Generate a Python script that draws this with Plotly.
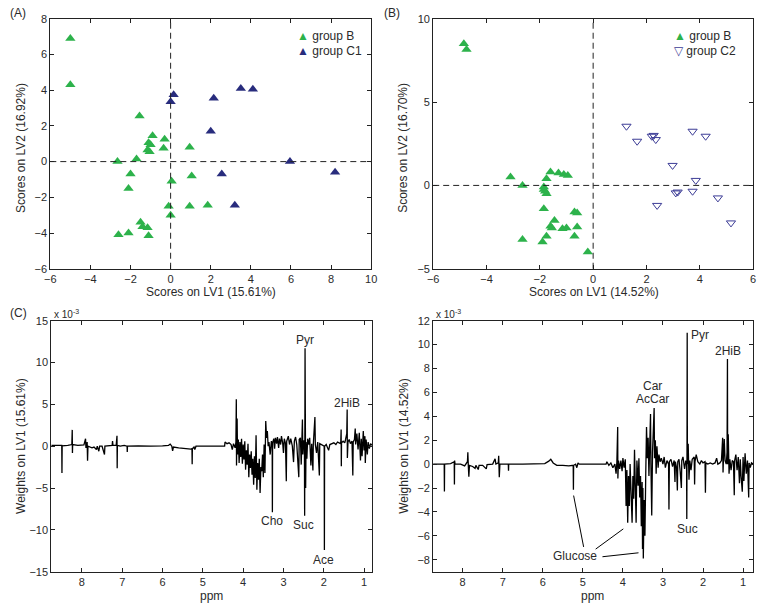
import plotly.graph_objects as go

# ---------------- Panel A data ----------------
a_B_x = [-5.0, -5.0, -1.55, -0.9, -0.3, -1.1, -1.0, -1.15, -1.05, -0.35, 0.95,
         -1.7, -2.65, -2.0, 1.05, 0.05, -2.1, -0.1, 0.95, 1.85, 0.0,
         -1.5, -1.4, -1.15, -2.6, -2.1, -1.1]
a_B_y = [6.9, 4.3, 2.55, 1.45, 1.25, 1.05, 0.95, 0.65, 0.55, 0.75, 0.8,
         0.15, 0.0, -0.7, -0.8, -1.1, -1.5, -2.5, -2.5, -2.45, -3.0,
         -3.4, -3.65, -3.7, -4.1, -4.0, -4.15]
a_C1_x = [0.15, 0.0, 2.15, 3.5, 4.1, 2.0, 5.95, 8.2, 2.55, 3.2]
a_C1_y = [3.75, 3.35, 3.55, 4.1, 4.05, 1.7, 0.0, -0.6, -0.7, -2.45]

# ---------------- Panel B data ----------------
b_B_x = [-4.85, -4.75, -3.1, -2.65, -1.6, -1.3, -1.1, -0.95, -1.75,
         -1.85, -1.85, -1.8, -1.75, -1.85, -0.7, -0.6, -1.45,
         -1.6, -1.55, -1.15, -1.0, -0.6, -2.65, -1.75, -1.9, -0.7, -0.2]
b_B_y = [8.5, 8.15, 0.5, 0.0, 0.8, 0.75, 0.65, 0.6, 0.4,
         -0.1, -0.25, -0.35, -0.5, -1.4, -1.6, -1.65, -2.1,
         -2.45, -2.55, -2.6, -2.55, -2.5, -3.25, -3.05, -3.4, -3.05, -4.0]
b_C2_x = [1.25, 1.65, 2.2, 2.27, 2.35, 3.73, 4.22, 2.98, 3.85,
          3.1, 3.17, 3.73, 4.68, 2.4, 5.17]
b_C2_y = [3.55, 2.65, 2.95, 3.0, 2.75, 3.25, 2.95, 1.2, 0.3,
          -0.45, -0.4, -0.35, -0.75, -1.2, -2.25]

# ---------------- Panel C spectrum (weights x 1e-3) ----------------
c_ppm = [8.76, 8.60, 8.50, 8.495, 8.49, 8.35, 8.25, 8.24, 8.235, 8.23,
         8.10, 7.95, 7.91, 7.90, 7.87, 7.86, 7.85, 7.75, 7.70, 7.64,
         7.62, 7.58, 7.56, 7.50, 7.44, 7.43, 7.30, 7.25, 7.24, 7.23,
         7.15, 7.13, 7.125, 7.12, 7.05, 6.95, 6.88, 6.875, 6.87, 6.6,
         6.3, 6.0, 5.85, 5.81, 5.77, 5.75, 5.73, 5.6, 5.45, 5.30,
         5.27, 5.265, 5.26, 5.22, 5.20, 5.17, 5.12, 4.46, 4.45, 4.40,
         4.35, 4.30, 4.27, 4.24, 4.20, 4.18, 4.17, 4.165, 4.15, 4.14,
         4.12, 4.10, 4.08, 4.06, 4.04, 4.02, 4.00, 3.98, 3.96, 3.94,
         3.92, 3.90, 3.88, 3.86, 3.84, 3.82, 3.80, 3.78, 3.76, 3.74,
         3.72, 3.70, 3.68, 3.66, 3.64, 3.62, 3.60, 3.58, 3.56, 3.54,
         3.52, 3.50, 3.48, 3.46, 3.44, 3.42, 3.40, 3.38, 3.36, 3.33,
         3.30, 3.28, 3.275, 3.27, 3.24, 3.22, 3.20, 3.17, 3.15, 3.12,
         3.10, 3.07, 3.05, 3.02, 3.00, 2.98, 2.95, 2.93, 2.92, 2.88,
         2.85, 2.82, 2.78, 2.75, 2.73, 2.70, 2.67, 2.62, 2.61, 2.58,
         2.56, 2.54, 2.53, 2.52, 2.50, 2.48, 2.475, 2.47, 2.465, 2.46,
         2.45, 2.44, 2.42, 2.40, 2.37, 2.35, 2.32, 2.30, 2.27, 2.26,
         2.22, 2.21, 2.18, 2.15, 2.11, 2.10, 2.06, 2.02, 1.99, 1.985,
         1.98, 1.94, 1.90, 1.88, 1.85, 1.80, 1.75, 1.70, 1.66, 1.62,
         1.58, 1.57, 1.565, 1.56, 1.52, 1.48, 1.46, 1.43, 1.42, 1.415,
         1.40, 1.37, 1.34, 1.30, 1.28, 1.27, 1.24, 1.22, 1.21, 1.18,
         1.15, 1.12, 1.09, 1.07, 1.05, 1.02, 1.00, 0.98, 0.97, 0.95,
         0.92, 0.90, 0.87, 0.84, 0.80]
c_w = [0.1, 0.05, 0.1, -3.2, 0.05, 0.1, 0.2, 1.95, -0.8, 0.2,
       0.1, 0.15, 0.9, -0.2, 0.5, -1.75, 0.0, -0.2, -0.1, -0.4,
       0.0, -0.6, 0.0, 0.0, -1.0, 0.0, 0.1, 0.1, 0.6, 0.1,
       0.1, 1.25, -2.65, 0.1, 0.0, 0.1, 0.0, -0.7, 0.0, 0.05,
       0.0, 0.05, 0.1, 0.25, 0.0, -0.55, -0.1, -0.2, -0.3, -0.35,
       -0.3, -2.15, -0.3, -0.1, -0.4, 0.0, 0.0, 0.0, 0.5, 0.3,
       0.4, 0.2, -0.4, 0.3, -0.2, 0.5, 5.6, -2.3, 3.3, -1.0,
       0.8, -2.0, 0.5, -1.3, 0.9, -2.1, 0.2, -1.6, 0.6, -2.8,
       -0.5, -2.2, 0.3, -3.7, -1.0, -2.6, -0.6, -3.4, -1.5, -4.6,
       -1.2, -3.8, 1.3, -5.2, -2.0, -4.0, -1.5, -5.6, -2.5, -3.0,
       -1.0, -3.7, 0.2, -3.2, 3.0, 1.0, 1.8, 0.0, 0.5, -1.0,
       0.6, 0.0, -7.9, 0.4, 0.9, -0.3, 1.0, 0.3, 1.1, -0.2,
       0.9, 0.2, 1.2, 0.4, -0.8, 0.9, 0.3, -4.2, 0.6, 1.2,
       0.2, 0.9, 0.0, -1.9, 0.6, 1.1, 0.2, -3.7, 0.8, 1.0,
       -2.2, 0.5, 3.2, -1.0, 0.7, 0.0, -8.3, 0.5, 11.7, 0.0,
       -5.0, 0.5, -1.5, 0.9, 0.2, 1.0, -2.3, 0.3, -2.9, 0.2,
       3.5, 0.2, -0.8, 0.5, -3.5, 0.3, 0.2, 0.1, 0.0, -12.4,
       0.0, 0.2, -0.3, -0.5, 0.2, 0.3, 0.4, 0.2, 0.5, 0.4,
       0.3, 2.0, -2.4, 0.4, 0.6, 0.4, 0.8, 1.5, 4.4, -1.4,
       0.5, 0.8, 0.3, 0.6, -3.5, 0.5, 0.8, 2.1, 0.2, 1.5,
       -0.4, 1.6, -1.7, 0.9, -1.2, 1.8, -0.5, 1.2, -2.0, 0.8,
       -1.0, 0.5, -0.3, 0.3, 0.1]

# ---------------- Panel D spectrum (weights x 1e-3) ----------------
d_ppm = [8.79, 8.60, 8.46, 8.455, 8.45, 8.30, 8.21, 8.205, 8.20, 8.19,
         8.05, 7.95, 7.88, 7.87, 7.86, 7.845, 7.83, 7.75, 7.69, 7.67,
         7.61, 7.59, 7.50, 7.41, 7.39, 7.25, 7.19, 7.17, 7.11, 7.10,
         7.085, 7.07, 6.95, 6.86, 6.855, 6.85, 6.5, 6.1, 5.95, 5.85,
         5.80, 5.74, 5.65, 5.5, 5.35, 5.24, 5.235, 5.23, 5.18, 5.15,
         5.12, 5.09, 4.42, 4.40, 4.35, 4.30, 4.25, 4.20, 4.17, 4.15,
         4.13, 4.125, 4.11, 4.08, 4.05, 4.02, 4.00, 3.97, 3.94, 3.92,
         3.90, 3.88, 3.86, 3.84, 3.82, 3.80, 3.77, 3.75, 3.73, 3.71,
         3.69, 3.67, 3.65, 3.62, 3.60, 3.58, 3.56, 3.54, 3.52, 3.51,
         3.50, 3.49, 3.47, 3.45, 3.43, 3.41, 3.39, 3.37, 3.35, 3.33,
         3.31, 3.30, 3.28, 3.26, 3.24, 3.22, 3.21, 3.19, 3.17, 3.15,
         3.12, 3.10, 3.07, 3.04, 3.00, 2.97, 2.94, 2.90, 2.86, 2.85,
         2.84, 2.80, 2.76, 2.72, 2.70, 2.69, 2.66, 2.64, 2.63, 2.60,
         2.57, 2.54, 2.53, 2.50, 2.46, 2.43, 2.41, 2.405, 2.40, 2.395,
         2.39, 2.37, 2.35, 2.33, 2.30, 2.27, 2.22, 2.21, 2.20, 2.17,
         2.13, 2.08, 2.04, 2.00, 1.95, 1.94, 1.93, 1.88, 1.82, 1.76,
         1.70, 1.66, 1.63, 1.58, 1.54, 1.51, 1.50, 1.49, 1.47, 1.45,
         1.42, 1.40, 1.39, 1.385, 1.37, 1.35, 1.33, 1.30, 1.27, 1.24,
         1.22, 1.21, 1.18, 1.15, 1.12, 1.09, 1.07, 1.05, 1.02, 1.00,
         0.98, 0.95, 0.92, 0.89, 0.86, 0.85, 0.82, 0.79, 0.75]
d_w = [0.0, 0.0, 0.0, -2.3, 0.0, 0.05, 0.2, -1.7, 0.3, 0.0,
       0.0, -0.15, 0.2, 1.0, 0.0, -1.05, -0.1, -0.2, -0.35, -0.1,
       -0.45, -0.1, -0.1, -0.4, -0.05, 0.0, 0.45, 0.0, 0.1, 0.7,
       -1.1, 0.0, 0.0, 0.0, -0.55, 0.0, 0.0, 0.0, 0.05, 0.25,
       0.4, 0.1, -0.1, -0.1, -0.15, -0.1, -2.15, -0.1, 0.0, -0.3,
       0.1, 0.0, 0.0, 0.2, -0.1, 0.1, -0.3, 0.0, -0.8, 0.2,
       3.1, -1.2, 0.3, -0.4, 0.3, -0.6, 0.5, -0.3, 0.4, -3.5,
       -0.5, -4.9, -1.0, -3.5, 0.0, -2.0, -4.9, -1.0, -2.9, 1.2,
       -1.5, -4.9, 0.3, -1.8, 0.5, -2.8, -1.0, -5.2, -1.5, -7.1,
       -2.0, -7.9, -3.0, -6.0, -1.0, 3.1, 0.5, 2.2, -1.0, 2.8,
       4.2, 0.0, -4.3, 1.0, 2.5, 4.7, 0.5, 2.0, -0.8, 1.5,
       -0.3, 0.8, 0.2, 0.5, 0.0, 0.6, -0.3, 0.3, 0.0, -3.8,
       0.2, 0.4, -0.2, 0.3, -1.5, 0.2, -0.3, -2.2, 0.2, 0.4,
       -0.6, -2.0, 0.3, 0.6, -0.4, 0.3, 0.0, -4.6, 0.5, 11.0,
       0.0, 1.7, -1.3, 0.3, -0.5, 0.4, 0.6, -1.7, 0.2, 0.8,
       0.2, 0.0, 0.3, 0.1, 0.2, -2.4, 0.1, 0.0, 0.1, 0.0,
       0.1, 0.5, 0.0, 0.1, 0.3, 2.2, -0.7, 0.5, 2.1, 0.3,
       0.0, 1.0, 8.8, 0.0, 2.5, -0.8, 0.4, -0.5, 0.3, 0.2,
       -2.6, 0.3, 0.8, -0.5, 0.6, -1.6, 0.4, -1.0, -2.3, 0.6,
       -1.4, 0.9, -0.8, 0.3, -2.8, 0.1, -0.3, 0.1, 0.0]

# ---------------- Labels ----------------
c_labels = ["Pyr", "2HiB", "Cho", "Suc", "Ace"]
c_label_ppm = [2.46, 1.42, 3.29, 2.50, 2.00]
c_label_w = [12.7, 5.2, -8.95, -9.4, -13.6]
d_labels = ["Car", "AcCar", "Suc", "2HiB"]
d_label_ppm = [3.26, 3.26, 2.39, 1.38]
d_label_w = [6.55, 5.45, -5.45, 9.45]
glucose_lines = [((5.23, -2.63), (4.98, -6.93)),
                 ((4.68, -7.11), (3.99, -5.42)),
                 ((4.51, -7.75), (3.61, -7.42))]

GREEN = "rgb(45,178,75)"
NAVY = "rgb(40,44,125)"
NAVY_OPEN = "rgb(60,60,150)"
FONT = "Liberation Sans, Arial, sans-serif"
TXT = "#2a2a2a"

W, H = 765, 612


def px_dom_x(a, b):
    return [a / W, b / W]


def px_dom_y(top, bottom):
    return [1 - bottom / H, 1 - top / H]


fig = go.Figure()
fig.add_trace(go.Scatter(x=a_B_x, y=a_B_y, mode="markers", xaxis="x", yaxis="y",
                         marker=dict(symbol="triangle-up", size=9, color=GREEN, line=dict(width=0)),
                         name="group B", showlegend=False))
fig.add_trace(go.Scatter(x=a_C1_x, y=a_C1_y, mode="markers", xaxis="x", yaxis="y",
                         marker=dict(symbol="triangle-up", size=9, color=NAVY, line=dict(width=0)),
                         name="group C1", showlegend=False))
fig.add_trace(go.Scatter(x=b_B_x, y=b_B_y, mode="markers", xaxis="x2", yaxis="y2",
                         marker=dict(symbol="triangle-up", size=9, color=GREEN, line=dict(width=0)),
                         name="group B", showlegend=False))
fig.add_trace(go.Scatter(x=b_C2_x, y=b_C2_y, mode="markers", xaxis="x2", yaxis="y2",
                         marker=dict(symbol="triangle-down-open", size=8, color=NAVY_OPEN,
                                     line=dict(width=1, color=NAVY_OPEN)),
                         name="group C2", showlegend=False))
fig.add_trace(go.Scatter(x=c_ppm, y=c_w, mode="lines", xaxis="x3", yaxis="y3",
                         line=dict(color="black", width=1.3), showlegend=False))
fig.add_trace(go.Scatter(x=d_ppm, y=d_w, mode="lines", xaxis="x4", yaxis="y4",
                         line=dict(color="black", width=1.3), showlegend=False))


def axis(domain, rng, anchor, tickvals):
    return dict(domain=domain, range=rng, anchor=anchor, tickvals=tickvals,
                showline=True, mirror="allticks", linecolor="#222", linewidth=1,
                ticks="inside", ticklen=4, tickcolor="#222", tickwidth=1,
                showgrid=False, zeroline=False,
                tickfont=dict(family=FONT, size=11, color=TXT))


fig.update_layout(
    width=W, height=H, margin=dict(l=0, r=0, t=0, b=0),
    paper_bgcolor="white", plot_bgcolor="white", showlegend=False,
    font=dict(family=FONT, color=TXT),
    xaxis=axis(px_dom_x(45, 371), [-6, 10], "y", list(range(-6, 11, 2))),
    yaxis=axis(px_dom_y(13, 268), [-6, 8], "x", list(range(-6, 9, 2))),
    xaxis2=axis(px_dom_x(434, 759), [-6, 6], "y2", list(range(-6, 7, 2))),
    yaxis2=axis(px_dom_y(13, 268), [-5, 10], "x2", [-5, 0, 5, 10]),
    xaxis3=axis(px_dom_x(46, 372), [8.76, 0.8], "y3", [8, 7, 6, 5, 4, 3, 2, 1]),
    yaxis3=axis(px_dom_y(321, 577), [-15, 15], "x3", [-15, -10, -5, 0, 5, 10, 15]),
    xaxis4=axis(px_dom_x(434, 759), [8.735, 0.75], "y4", [8, 7, 6, 5, 4, 3, 2, 1]),
    yaxis4=axis(px_dom_y(321, 577), [-9, 12], "x4", list(range(-8, 13, 2))),
)

shapes = []
for xr, yr in (("x", "y"), ("x2", "y2")):
    shapes.append(dict(type="line", xref=xr + " domain", yref=yr, x0=0, x1=1, y0=0, y1=0,
                       line=dict(color="#222", width=1, dash="6px,4px")))
    shapes.append(dict(type="line", xref=xr, yref=yr + " domain", x0=0, x1=0, y0=0, y1=1,
                       line=dict(color="#222", width=1, dash="6px,4px")))
for (p0, p1) in glucose_lines:
    shapes.append(dict(type="line", xref="x4", yref="y4", x0=p0[0], y0=p0[1], x1=p1[0], y1=p1[1],
                       line=dict(color="black", width=1)))
fig.update_layout(shapes=shapes)

ann = []


def paper_text(text, x, y, size=12, xanchor="center", yanchor="middle", angle=0):
    ann.append(dict(text=text, xref="paper", yref="paper", x=x / W, y=1 - y / H,
                    xanchor=xanchor, yanchor=yanchor, showarrow=False, textangle=angle,
                    font=dict(family=FONT, size=size, color=TXT)))


# panel letters
paper_text("(A)", 2, 7, xanchor="left")
paper_text("(B)", 382, 7, xanchor="left")
paper_text("(C)", 2, 313, xanchor="left")
# axis titles
paper_text("Scores on LV1 (15.61%)", 208, 292)
paper_text("Scores on LV2 (16.92%)", 15, 145, angle=-90)
paper_text("Scores on LV1 (14.52%)", 597, 292)
paper_text("Scores on LV2 (16.70%)", 403, 145, angle=-90)
paper_text("ppm", 209, 602)
paper_text("Weights on LV1 (15.61%)", 15, 449, angle=-90)
paper_text("ppm", 596, 602)
paper_text("Weights on LV1 (14.52%)", 405, 449, angle=-90)
# exponent labels
paper_text("x 10<sup>-3</sup>", 47, 314, size=10, xanchor="left")
paper_text("x 10<sup>-3</sup>", 435, 314, size=10, xanchor="left")
# legends
paper_text("<span style='color:%s'>▲</span> group B" % GREEN, 294, 31, size=12, xanchor="left")
paper_text("<span style='color:%s'>▲</span> group C1" % NAVY, 294, 46, size=12, xanchor="left")
paper_text("<span style='color:%s'>▲</span> group B" % GREEN, 677, 31, size=12, xanchor="left")
paper_text("<span style='color:%s'>▽</span> group C2" % NAVY_OPEN, 677, 46, size=12, xanchor="left")

for t, xv, yv in zip(c_labels, c_label_ppm, c_label_w):
    ann.append(dict(text=t, xref="x3", yref="y3", x=xv, y=yv, showarrow=False,
                    font=dict(family=FONT, size=12, color=TXT)))
for t, xv, yv in zip(d_labels, d_label_ppm, d_label_w):
    ann.append(dict(text=t, xref="x4", yref="y4", x=xv, y=yv, showarrow=False,
                    font=dict(family=FONT, size=12, color=TXT)))
ann.append(dict(text="Pyr", xref="x4", yref="y4", x=2.34, y=10.8, xanchor="left", showarrow=False,
                font=dict(family=FONT, size=12, color=TXT)))
ann.append(dict(text="Glucose", xref="x4", yref="y4", x=5.2, y=-7.7, showarrow=False,
                font=dict(family=FONT, size=12, color=TXT)))
fig.update_layout(annotations=ann)

fig.write_html("out.html", config={"displayModeBar": False},
               post_script="document.body.style.margin='0';document.body.style.overflow='hidden';")
